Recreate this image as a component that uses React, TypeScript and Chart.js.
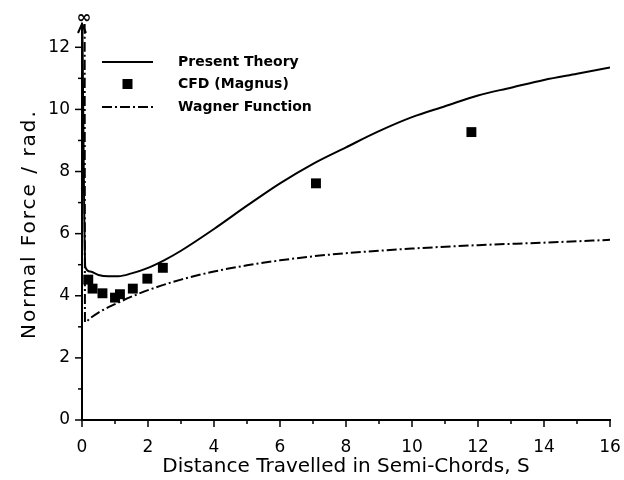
import React, { useEffect, useRef } from "react";
import { Chart, registerables } from "chart.js";

Chart.register(...registerables);

// Present Theory (solid)
const presentS = [0.01, 0.1, 0.25, 0.5, 0.8, 1.1, 1.5, 2, 2.5, 3, 4, 5, 6, 7, 8, 9, 10, 11, 12, 13, 14, 15, 16];
const presentN = [12.75, 4.93, 4.78, 4.67, 4.63, 4.63, 4.72, 4.9, 5.15, 5.45, 6.15, 6.9, 7.62, 8.25, 8.78, 9.3, 9.75, 10.1, 10.45, 10.7, 10.95, 11.15, 11.35];

// CFD (Magnus) squares
const cfdS = [0.19, 0.32, 0.62, 1.0, 1.15, 1.54, 1.98, 2.45, 7.09, 11.8];
const cfdN = [4.52, 4.23, 4.08, 3.94, 4.05, 4.23, 4.55, 4.9, 7.62, 9.27];

// Wagner Function (dash-dot)
const wagnerS = [0.08, 0.09, 0.25, 0.5, 1, 1.5, 2, 3, 4, 5, 6, 7, 8, 9, 10, 12, 14, 16];
const wagnerN = [12.75, 3.15, 3.28, 3.46, 3.73, 3.97, 4.18, 4.52, 4.78, 4.98, 5.14, 5.27, 5.37, 5.45, 5.52, 5.63, 5.71, 5.8];

const legendLabels = ["Present Theory", "CFD (Magnus)", "Wagner Function"];
const xTitle = "Distance Travelled in Semi-Chords, S";
const yTitle = "Normal Force / rad.";

const FONT = "'DejaVu Sans', sans-serif";
const DASHDOT = [10, 3, 2, 3];

const decorPlugin = {
  id: "decor",
  afterDraw(chart: any) {
    const ctx = chart.ctx;
    const xs = chart.scales.x;
    const ys = chart.scales.y;
    const area = chart.chartArea;
    ctx.save();
    ctx.strokeStyle = "#000";
    ctx.fillStyle = "#000";
    ctx.lineWidth = 1.5;
    // x tick marks
    for (let v = 0; v <= 16; v++) {
      const px = xs.getPixelForValue(v);
      const len = v % 2 === 0 ? 7 : 4;
      ctx.beginPath();
      ctx.moveTo(px, area.bottom);
      ctx.lineTo(px, area.bottom + len);
      ctx.stroke();
    }
    // y tick marks
    for (let v = 0; v <= 12; v++) {
      const py = ys.getPixelForValue(v);
      const len = v % 2 === 0 ? 7 : 4;
      ctx.beginPath();
      ctx.moveTo(area.left - len, py);
      ctx.lineTo(area.left, py);
      ctx.stroke();
    }
    // arrow on y axis
    const ax = xs.getPixelForValue(0);
    const top = area.top;
    ctx.lineWidth = 2;
    ctx.beginPath();
    ctx.moveTo(ax - 4, top + 9);
    ctx.lineTo(ax, top);
    ctx.lineTo(ax + 4, top + 9);
    ctx.stroke();
    ctx.font = `bold 18px ${FONT}`;
    ctx.textAlign = "center";
    ctx.textBaseline = "middle";
    ctx.fillText("\u221E", ax + 2, top - 6);

    // y-axis title (drawn with extra letter spacing)
    ctx.save();
    ctx.translate(35, (area.top + area.bottom) / 2 + 2);
    ctx.rotate(-Math.PI / 2);
    ctx.font = `20px ${FONT}`;
    try {
      (ctx as any).letterSpacing = "2px";
    } catch (e) {}
    ctx.textAlign = "center";
    ctx.textBaseline = "alphabetic";
    ctx.fillText(yTitle, 0, 0);
    ctx.restore();

    // legend
    const lx0 = 102, lx1 = 153, tx = 178;
    const rows = [62, 84, 107];
    ctx.lineWidth = 2;
    ctx.setLineDash([]);
    ctx.beginPath();
    ctx.moveTo(lx0, rows[0]);
    ctx.lineTo(lx1, rows[0]);
    ctx.stroke();
    ctx.fillRect((lx0 + lx1) / 2 - 5, rows[1] - 5, 10, 10);
    ctx.setLineDash(DASHDOT);
    ctx.beginPath();
    ctx.moveTo(lx0, rows[2]);
    ctx.lineTo(lx1, rows[2]);
    ctx.stroke();
    ctx.setLineDash([]);
    ctx.font = `bold 14px ${FONT}`;
    ctx.textAlign = "left";
    ctx.textBaseline = "middle";
    legendLabels.forEach((t, i) => ctx.fillText(t, tx, rows[i]));
    ctx.restore();
  },
};

export default function App() {
  const ref = useRef<HTMLCanvasElement | null>(null);
  useEffect(() => {
    if (!ref.current) return;
    const chart = new Chart(ref.current, {
      type: "line",
      data: {
        datasets: [
          {
            label: legendLabels[0],
            data: presentS.map((s, i) => ({ x: s, y: presentN[i] })),
            borderColor: "#000",
            borderWidth: 2,
            pointRadius: 0,
            cubicInterpolationMode: "monotone",
            fill: false,
          },
          {
            label: legendLabels[1],
            type: "scatter",
            data: cfdS.map((s, i) => ({ x: s, y: cfdN[i] })),
            backgroundColor: "#000",
            borderColor: "#000",
            borderWidth: 0,
            pointStyle: "rect",
            pointRadius: 7,
            showLine: false,
          },
          {
            label: legendLabels[2],
            data: wagnerS.map((s, i) => ({ x: s, y: wagnerN[i] })),
            borderColor: "#000",
            borderWidth: 2,
            borderDash: DASHDOT,
            pointRadius: 0,
            cubicInterpolationMode: "monotone",
            fill: false,
          },
        ] as any,
      },
      options: {
        animation: false,
        responsive: true,
        maintainAspectRatio: false,
        layout: { padding: { top: 24, right: 14, left: 0, bottom: 0 } },
        plugins: { legend: { display: false }, tooltip: { enabled: false } },
        scales: {
          x: {
            type: "linear",
            min: 0,
            max: 16,
            grid: { display: true, drawOnChartArea: false, drawTicks: true, tickLength: 7, color: "rgba(0,0,0,0)" },
            border: { display: true, color: "#000", width: 2 },
            ticks: {
              stepSize: 1,
              autoSkip: false,
              maxRotation: 0,
              includeBounds: false,
              padding: 10,
              color: "#000",
              font: { family: FONT, size: 17 },
              callback: (v: any) => (Number(v) % 2 === 0 ? String(v) : ""),
            },
            title: {
              display: true,
              text: xTitle,
              color: "#000",
              font: { family: FONT, size: 20 },
              padding: { top: 1, bottom: 1 },
            },
            afterFit: (s: any) => {
              s.height = 60;
              s.paddingLeft = 0;
              s.paddingRight = 0;
            },
          },
          y: {
            type: "linear",
            min: 0,
            max: 12.75,
            grid: { display: true, drawOnChartArea: false, drawTicks: true, tickLength: 7, color: "rgba(0,0,0,0)" },
            border: { display: true, color: "#000", width: 2 },
            ticks: {
              stepSize: 1,
              autoSkip: false,
              includeBounds: false,
              padding: 5,
              color: "#000",
              font: { family: FONT, size: 17 },
              callback: (v: any) => (Number(v) % 2 === 0 ? String(v) : ""),
            },
            title: { display: false, text: yTitle },
            afterFit: (s: any) => {
              s.width = 82;
              s.paddingTop = 0;
              s.paddingBottom = 0;
            },
          },
        },
      } as any,
      plugins: [decorPlugin],
    });
    return () => chart.destroy();
  }, []);
  return (
    <div style={{ position: "absolute", left: 0, top: 0, width: 624, height: 480, background: "#fff" }}>
      <canvas ref={ref} />
    </div>
  );
}
